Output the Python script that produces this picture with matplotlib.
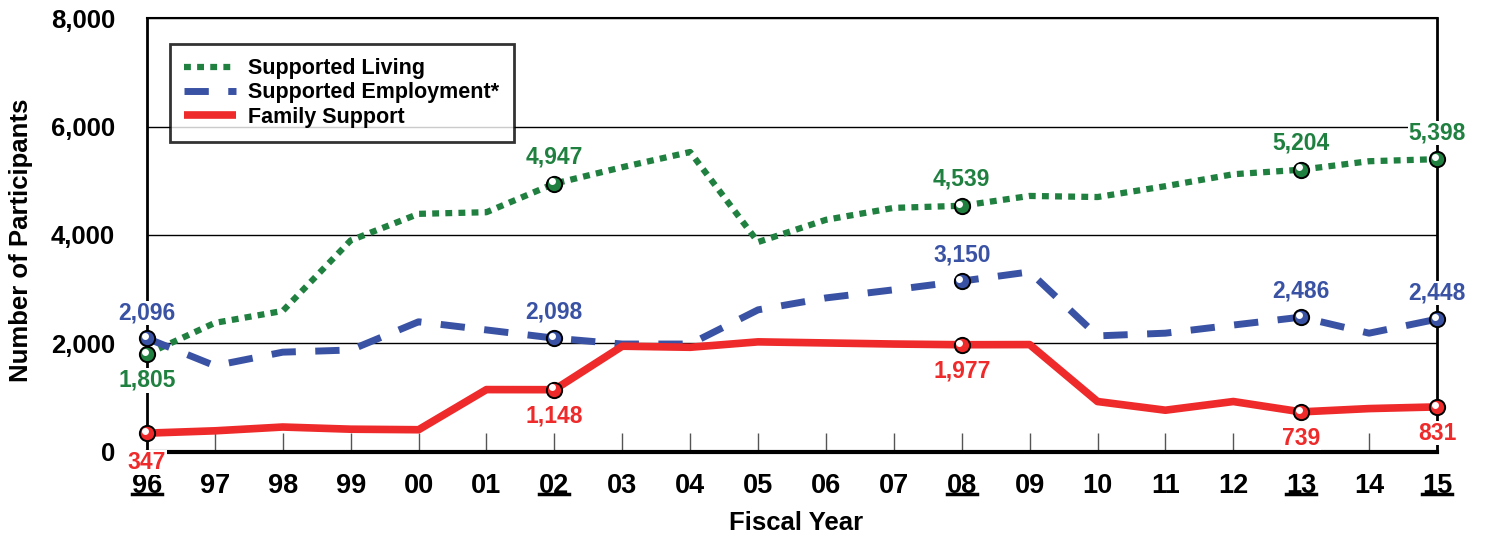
import matplotlib.pyplot as plt
import matplotlib.transforms as mtransforms
import numpy as np

plt.rcParams['font.family'] = ['Liberation Sans', 'DejaVu Sans']
plt.rcParams['font.weight'] = 'bold'

# %% data
years = ["96", "97", "98", "99", "00", "01", "02", "03", "04", "05",
         "06", "07", "08", "09", "10", "11", "12", "13", "14", "15"]
living = [1805, 2380, 2600, 3900, 4390, 4420, 4947, 5250, 5530, 3870,
          4280, 4500, 4539, 4720, 4700, 4900, 5120, 5204, 5360, 5398]
employment = [2096, 1590, 1840, 1880, 2400, 2250, 2098, 1990, 1990, 2620,
              2840, 2990, 3150, 3320, 2140, 2190, 2340, 2486, 2190, 2448]
family = [347, 390, 460, 420, 410, 1150, 1148, 1950, 1930, 2030,
          2010, 1990, 1977, 1980, 930, 770, 930, 739, 800, 831]
marked = ["96", "02", "08", "13", "15"]

GREEN = "#1f8040"
BLUE = "#3a52a4"
RED = "#ee2a2a"

x = np.arange(len(years))
mark_idx = [years.index(m) for m in marked]

fig = plt.figure(figsize=(14.95, 5.38), dpi=100)
ax = fig.add_axes([0.0983, 0.1599, 0.8629, 0.8066])

ax.plot(x, living, color=GREEN, lw=4.5, linestyle=(0, (1.1, 1.0)),
        label="Supported Living", zorder=3)
ax.plot(x, employment, color=BLUE, lw=5, linestyle=(0, (3.5, 2.8)),
        label="Supported Employment*", zorder=3)
ax.plot(x, family, color=RED, lw=5.5, solid_capstyle="butt",
        label="Family Support", zorder=3)

# shiny markers
hl = mtransforms.ScaledTranslation(-1.6 / 72, 1.6 / 72, fig.dpi_scale_trans)
for vals, col in [(living, GREEN), (employment, BLUE), (family, RED)]:
    mv = [vals[i] for i in mark_idx]
    ax.plot(mark_idx, mv, "o", ms=11, mfc=col, mec="black", mew=1.4,
            zorder=5, clip_on=False)
    ax.plot(mark_idx, mv, "o", ms=5, mfc="white", mec="none",
            zorder=6, clip_on=False, transform=ax.transData + hl)

# value labels (white backing where they sit on an axis line)
def label(vals, col, offsets):
    for i, dy in zip(mark_idx, offsets):
        kw = {}
        if years[i] in ("96", "15") or (years[i] == "13" and col == RED):
            kw["bbox"] = dict(facecolor="white", edgecolor="none", pad=0.5)
        ax.annotate(f"{vals[i]:,}", (i, vals[i]), xytext=(0, dy),
                    textcoords="offset points", ha="center", va="center",
                    color=col, fontsize=16.5, fontweight="bold", zorder=7,
                    annotation_clip=False, **kw)

label(living, GREEN, [-19, 19, 19, 19, 19])
label(employment, BLUE, [18, 19, 19, 19, 19])
label(family, RED, [-21, -19, -19, -19, -19])

ax.set_xlim(0, len(years) - 1)
ax.set_ylim(0, 8000)
ax.set_yticks([0, 2000, 4000, 6000, 8000])
ax.set_yticklabels([f"{v:,}" for v in [0, 2000, 4000, 6000, 8000]],
                   fontsize=18.5, fontweight="bold")
ax.tick_params(axis="y", length=0, pad=23)
ax.set_xticks(x)
ax.set_xticklabels(years, fontsize=19.5, fontweight="bold")
ax.tick_params(axis="x", direction="in", length=13.5, width=1,
               color="#555555", pad=15)
ax.grid(axis="y", color="black", lw=1)
ax.set_axisbelow(True)

# underline highlighted years
ut = mtransforms.blended_transform_factory(ax.transData, ax.transAxes)
for i in mark_idx:
    ax.plot([i - 0.22, i + 0.22], [-0.097, -0.097], color="black", lw=2.5,
            transform=ut, clip_on=False)

for s in ["left", "right"]:
    ax.spines[s].set_linewidth(2)
ax.spines["top"].set_linewidth(1.5)
ax.spines["bottom"].set_linewidth(3)

ax.set_ylabel("Number of Participants", fontsize=18.5, fontweight="bold")
ax.set_xlabel("Fiscal Year", fontsize=18.5, fontweight="bold")
ax.yaxis.set_label_coords(-0.088, 0.488)
ax.xaxis.set_label_coords(0.503, -0.136)

leg = ax.legend(loc="upper left", bbox_to_anchor=(0.0178, 0.94),
                borderaxespad=0, fontsize=15.5, frameon=True, fancybox=False,
                handlelength=2.4, borderpad=0.65, labelspacing=0.15,
                handletextpad=0.6)
leg.get_frame().set_edgecolor("black")
leg.get_frame().set_linewidth(2)
leg.set_zorder(8)

fig.savefig("out.png", dpi=100)
